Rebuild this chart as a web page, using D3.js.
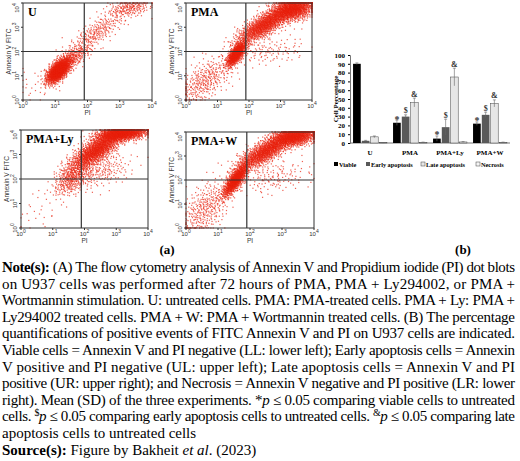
<!DOCTYPE html>
<html><head><meta charset="utf-8">
<script src="https://cdn.jsdelivr.net/npm/d3@7"></script>
<style>body{margin:0;background:#fff}svg{display:block}</style>
</head><body>
<svg id="c" width="520" height="461"></svg>
<script>
// bar chart data (percent of cells)
const groups = ["U", "PMA", "PMA+Ly", "PMA+W"];
const seriesNames = ["Viable", "Early apoptosis", "Late apoptosis", "Necrosis"];
const viable = [90, 23, 5, 22];
const early = [2.5, 30, 18, 32];
const late = [7, 46, 75, 45];
const necrosis = [0.3, 0.8, 1.2, 0.8];
const viableSd = [1, 3, 3, 2];
const earlySd = [0.5, 2, 9, 3];
const lateSd = [1, 5, 10, 4];
const necrosisSd = [0.1, 0.2, 0.4, 0.2];
const yTicks = [0, 10, 20, 30, 40, 50, 60, 70, 80, 90, 100];

// dot-plot clouds, in log10 units: [pi, annexin, sdPi, sdAnx, corr, count]
const panelNames = ["U", "PMA", "PMA+Ly", "PMA+W"];
const blobsU = [[1.1, 1.2, 0.18, 0.25, 0.6, 1400], [1.5, 1.7, 0.3, 0.3, 0.7, 300],
  [2.3, 2.8, 0.45, 0.45, 0.8, 260], [3.3, 3.8, 0.35, 0.2, 0.3, 200], [0.4, 0.6, 0.4, 0.4, 0.2, 30]];
const blobsPMA = [[1.6, 1.9, 0.15, 0.25, 0.7, 900], [2.5, 3.1, 0.45, 0.4, 0.8, 1300],
  [3.4, 3.75, 0.35, 0.25, 0.3, 1200], [0.6, 0.8, 0.45, 0.5, 0.6, 350], [2.6, 2.0, 0.6, 0.3, 0.3, 120]];
const blobsLy = [[2.4, 3.2, 0.45, 0.45, 0.8, 1600], [3.2, 3.85, 0.4, 0.15, 0.3, 1200],
  [1.6, 2.0, 0.3, 0.35, 0.5, 350], [2.5, 2.3, 0.5, 0.35, 0.4, 200], [0.6, 0.6, 0.5, 0.4, 0.4, 25]];
const blobsW = [[1.55, 2.0, 0.2, 0.35, 0.8, 1000], [2.5, 3.2, 0.45, 0.4, 0.8, 1300],
  [3.4, 3.8, 0.35, 0.2, 0.3, 1100], [0.6, 0.8, 0.4, 0.6, 0.5, 350], [2.7, 2.1, 0.6, 0.35, 0.3, 150]];
const panelBlobs = [blobsU, blobsPMA, blobsLy, blobsW];
const cutPI = 1.9, cutAnx = 2;

const svg = d3.select("#c");

function halton(i, b) { let f = 1, r = 0; while (i > 0) { f /= b; r += f * (i % b); i = Math.floor(i / b); } return r; }

// panel boxes
const panels = [
  {x0: 23, x1: 152, y0: 3, y1: 100},
  {x0: 186, x1: 312, y0: 3, y1: 100},
  {x0: 21, x1: 148, y0: 130, y1: 228},
  {x0: 186, x1: 314, y0: 132, y1: 228}
];

panels.forEach((p, k) => {
  const x = d3.scaleLinear().domain([0, 4]).range([p.x0, p.x1]);
  const y = d3.scaleLinear().domain([0, 4]).range([p.y1, p.y0]);
  const g = svg.append("g");
  g.append("rect").attr("x", p.x0).attr("y", p.y0).attr("width", p.x1 - p.x0).attr("height", p.y1 - p.y0)
    .attr("fill", "#fff");
  const pts = [];
  let idx = 1 + k * 7919;
  panelBlobs[k].forEach(([mx, my, sx, sy, rho, n]) => {
    for (let i = 0; i < n; i++, idx++) {
      const u1 = Math.max(1e-6, halton(idx, 2)), u2 = halton(idx, 3);
      const r = Math.sqrt(-2 * Math.log(u1));
      const z1 = r * Math.cos(2 * Math.PI * u2), z2 = r * Math.sin(2 * Math.PI * u2);
      const a = mx + sx * z1, b = my + sy * (rho * z1 + Math.sqrt(1 - rho * rho) * z2);
      pts.push([Math.max(0, Math.min(4, a)), Math.max(0, Math.min(4, b))]);
    }
  });
  g.selectAll("rect.d").data(pts).join("rect").attr("class", "d")
    .attr("x", d => x(d[0]) - 0.6).attr("y", d => y(d[1]) - 0.6)
    .attr("width", 1.2).attr("height", 1.2).attr("fill", "#e8200c").attr("opacity", 0.7);
  g.append("rect").attr("x", p.x0).attr("y", p.y0).attr("width", p.x1 - p.x0).attr("height", p.y1 - p.y0)
    .attr("fill", "none").attr("stroke", "#333").attr("stroke-width", 1);
  g.append("line").attr("x1", x(cutPI)).attr("x2", x(cutPI)).attr("y1", p.y0).attr("y2", p.y1).attr("stroke", "#333").attr("stroke-width", 1.2);
  g.append("line").attr("x1", p.x0).attr("x2", p.x1).attr("y1", y(cutAnx)).attr("y2", y(cutAnx)).attr("stroke", "#333").attr("stroke-width", 1.2);
  // ticks
  d3.range(5).forEach(t => {
    g.append("line").attr("x1", x(t)).attr("x2", x(t)).attr("y1", p.y1).attr("y2", p.y1 + 2).attr("stroke", "#333");
    g.append("line").attr("x1", p.x0 - 2).attr("x2", p.x0).attr("y1", y(t)).attr("y2", y(t)).attr("stroke", "#333");
    const tx = g.append("text").attr("x", x(t)).attr("y", p.y1 + 8).attr("text-anchor", "middle")
      .attr("font-family", "Liberation Sans, Arial").attr("font-size", 6).attr("fill", "#333");
    tx.append("tspan").text("10");
    tx.append("tspan").attr("dy", -3).attr("font-size", 5).text(t);
    const ty = g.append("text").attr("transform", `translate(${p.x0 - 4},${Math.max(y(t), p.y0 + 5)}) rotate(-90)`).attr("text-anchor", "middle")
      .attr("font-family", "Liberation Sans, Arial").attr("font-size", 6).attr("fill", "#333");
    ty.append("tspan").text("10");
    ty.append("tspan").attr("dy", -3).attr("font-size", 5).text(t);
  });
  g.append("text").attr("x", (p.x0 + p.x1) / 2).attr("y", p.y1 + 15).attr("text-anchor", "middle")
    .attr("font-family", "Liberation Sans, Arial").attr("font-size", 6.5).attr("fill", "#333").text("PI");
  g.append("text").attr("transform", `translate(${p.x0 - 12},${(p.y0 + p.y1) / 2}) rotate(-90)`).attr("text-anchor", "middle")
    .attr("font-family", "Liberation Sans, Arial").attr("font-size", 6.5).attr("fill", "#333").text("Annexin V FITC");
  g.append("text").attr("x", p.x0 + 5).attr("y", p.y0 + 13).attr("font-family", "Liberation Serif, Times New Roman")
    .attr("font-weight", "bold").attr("font-size", 12).text(panelNames[k]);
});

const serif = "Liberation Serif, Times New Roman";
svg.append("text").attr("x", 167).attr("y", 254).attr("text-anchor", "middle").attr("font-family", serif)
  .attr("font-weight", "bold").attr("font-size", 13).text("(a)");
svg.append("text").attr("x", 463).attr("y", 254).attr("text-anchor", "middle").attr("font-family", serif)
  .attr("font-weight", "bold").attr("font-size", 13).text("(b)");

// bar chart
const bx = d3.scaleBand().domain(groups).range([350, 510]).paddingInner(0.1).paddingOuter(0.05);
const by = d3.scaleLinear().domain([0, 100]).range([143, 55]);
const bs = d3.scaleBand().domain(seriesNames).range([0, bx.bandwidth()]).padding(0.12);
const vals = [viable, early, late, necrosis], sds = [viableSd, earlySd, lateSd, necrosisSd];
const fills = ["#000", "#595959", "#e6e6e6", "#f5f5f5"];
const marks = ["*", "$", "&", ""];
const bg = svg.append("g");
bg.append("g").attr("transform", "translate(350,0)")
  .call(d3.axisLeft(by).tickValues(yTicks).tickSize(2).tickFormat(d3.format("d")))
  .call(a => a.selectAll("text").attr("font-family", serif).attr("font-weight", "bold").attr("font-size", 7))
  .call(a => a.select(".domain").attr("stroke", "#777"));
bg.append("line").attr("x1", 350).attr("x2", 510).attr("y1", by(0)).attr("y2", by(0)).attr("stroke", "#777");
seriesNames.forEach((s, si) => {
  groups.forEach((gname, gi) => {
    const v = vals[si][gi], e = sds[si][gi], cx = bx(gname) + bs(s) + bs.bandwidth() / 2;
    bg.append("rect").attr("x", bx(gname) + bs(s)).attr("y", by(v)).attr("width", bs.bandwidth())
      .attr("height", by(0) - by(v)).attr("fill", fills[si]).attr("stroke", si > 1 ? "#444" : "none").attr("stroke-width", 0.5);
    bg.append("line").attr("x1", cx).attr("x2", cx).attr("y1", by(v + e)).attr("y2", by(v - e)).attr("stroke", "#666").attr("stroke-width", 0.6);
    bg.append("line").attr("x1", cx - 1.5).attr("x2", cx + 1.5).attr("y1", by(v + e)).attr("y2", by(v + e)).attr("stroke", "#666").attr("stroke-width", 0.6);
    if (gi > 0 && marks[si]) bg.append("text").attr("x", cx).attr("y", by(v + e) - 1.5).attr("text-anchor", "middle")
      .attr("font-family", serif).attr("font-weight", "bold").attr("font-size", si === 0 ? 10 : 8).attr("fill", "#333")
      .attr("dy", si === 0 ? 4 : 0).text(marks[si]);
  });
});
groups.forEach(gname => bg.append("text").attr("x", bx(gname) + bx.bandwidth() / 2).attr("y", 155).attr("text-anchor", "middle")
  .attr("font-family", serif).attr("font-weight", "bold").attr("font-size", 7).text(gname));
bg.append("text").attr("transform", "translate(338,99) rotate(-90)").attr("text-anchor", "middle")
  .attr("font-family", serif).attr("font-weight", "bold").attr("font-size", 7).text("Cell Percentage");
const legX = [334, 366, 421, 476];
seriesNames.forEach((s, si) => {
  bg.append("rect").attr("x", legX[si]).attr("y", 162).attr("width", 4).attr("height", 4).attr("fill", fills[si])
    .attr("stroke", si > 1 ? "#444" : "none").attr("stroke-width", 0.5);
  bg.append("text").attr("x", legX[si] + 5).attr("y", 166.5).attr("font-family", serif).attr("font-weight", "bold")
    .attr("font-size", 6.3).text(s);
});

// caption
const noteLines = [
  [["b", "Note(s): "], ["", "(A) The flow cytometry analysis of Annexin V and Propidium iodide (PI) dot blots"]],
  [["", "on U937 cells was performed after 72 hours of PMA, PMA + Ly294002, or PMA +"]],
  [["", "Wortmannin stimulation. U: untreated cells. PMA: PMA-treated cells. PMA + Ly: PMA +"]],
  [["", "Ly294002 treated cells. PMA + W: PMA + Wortmannin treated cells. (B) The percentage"]],
  [["", "quantifications of positive events of FITC Annexin V and PI on U937 cells are indicated."]],
  [["", "Viable cells = Annexin V and PI negative (LL: lower left); Early apoptosis cells = Annexin"]],
  [["", "V positive and PI negative (UL: upper left); Late apoptosis cells = Annexin V and PI"]],
  [["", "positive (UR: upper right); and Necrosis = Annexin V negative and PI positive (LR: lower"]],
  [["", "right). Mean (SD) of the three experiments. *"], ["i", "p"], ["", " ≤ 0.05 comparing viable cells to untreated"]],
  [["", "cells. "], ["s", "$"], ["i", "p"], ["", " ≤ 0.05 comparing early apoptosis cells to untreated cells. "], ["s", "&"], ["i", "p"], ["", " ≤ 0.05 comparing late"]],
  [["", "apoptosis cells to untreated cells"]],
  [["b", "Source(s): "], ["", "Figure by Bakheit "], ["i", "et al"], ["", ". (2023)"]]
];
noteLines.forEach((parts, i) => {
  const t = svg.append("text").attr("x", 2).attr("y", 272 + i * 16.6).attr("font-family", serif).attr("font-size", 15);
  if (i < 10) t.attr("textLength", 513).attr("lengthAdjust", "spacing");
  parts.forEach(([st, s]) => {
    const ts = t.append("tspan").text(s);
    if (st === "b") ts.attr("font-weight", "bold");
    if (st === "i") ts.attr("font-style", "italic");
    if (st === "s") ts.attr("font-size", 10).attr("dy", -5);
    if (st === "i" && parts.some(p => p[0] === "s")) ts.attr("dy", 5);
  });
});
</script>
</body></html>
